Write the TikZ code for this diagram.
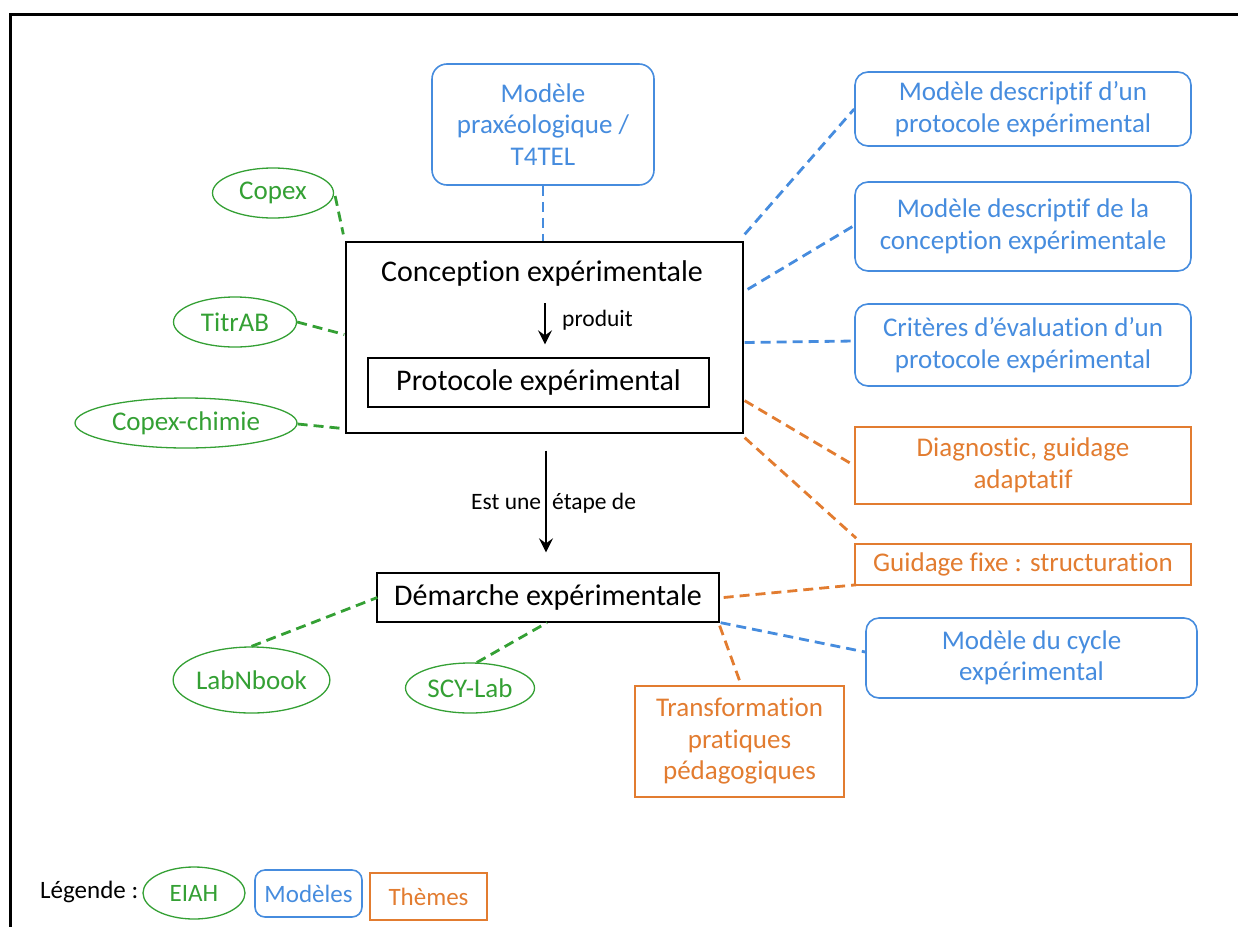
\documentclass[tikz,border=0pt]{standalone}
\usepackage{fontspec}
\setmainfont{Carlito}[Ligatures={TeX,NoCommon}]
\usetikzlibrary{shapes.geometric,arrows.meta}

\definecolor{modblue}{RGB}{70,140,222}
\definecolor{eiahgreen}{RGB}{52,160,52}
\definecolor{themorange}{RGB}{226,124,48}

\tikzset{
  boxtext/.style={font=\fontsize{27}{31.5}\selectfont, align=center, inner sep=0pt},
  model/.style={boxtext, draw=modblue, text=modblue, line width=1.6pt, rounded corners=13pt},
  theme/.style={boxtext, draw=themorange, text=themorange, line width=1.6pt},
  eiah/.style={boxtext, ellipse, draw=eiahgreen, text=eiahgreen, line width=1.3pt},
  mainbox/.style={draw=black, line width=1.3pt, inner sep=0pt, font=\fontsize{30}{34}\selectfont},
  small/.style={font=\fontsize{23.5}{27}\selectfont, inner sep=0pt},
  legendtext/.style={font=\fontsize{25}{29}\selectfont},
  link/.style={dash pattern=on 10pt off 6pt, line width=2.8pt},
  bluelink/.style={link, draw=modblue},
  greenlink/.style={link, draw=eiahgreen},
  orangelink/.style={link, draw=themorange},
  relation/.style={line width=2.8pt, -{Stealth[length=14pt,width=14pt,inset=5pt]}},
}

\begin{document}
\begin{tikzpicture}[x=1pt,y=-1pt]
  \useasboundingbox (0,0) rectangle (1238,926);

  % outer frame (runs off the right and bottom edges)
  \draw[line width=3pt] (1260,14) -- (10,14) -- (10,950);

  % central concept
  \node[mainbox, minimum width=397pt, minimum height=191pt] (conc) at (544.5,337.5) {};
  \node[font=\fontsize{30}{34}\selectfont, inner sep=0pt] (conctxt) at (542,273) {Conception expérimentale};
  \node[mainbox, minimum width=341pt, minimum height=49pt] (proto) at (538.5,382.5) {Protocole expérimental};
  \node[small, anchor=west] (produit) at (562,320) {produit};
  \draw[relation, shorten <=17pt, shorten >=13pt] ([xshift=3pt]conctxt.south) -- ([xshift=6.5pt]proto.north);

  \node[mainbox, minimum width=342pt, minimum height=49pt] (dem) at (548,597.5) {Démarche expérimentale};
  \node[small, anchor=west] (etape) at (471,503) {Est une\hspace{11pt}étape de};
  \draw[relation, shorten <=17pt, shorten >=20pt] ([xshift=1.5pt]conc.south) -- ([xshift=-2pt]dem.north);

  % models
  \node[model, minimum width=222pt, minimum height=121pt, rounded corners=15pt] (praxeo) at (543,124.5) {Modèle\\praxéologique /\\T4TEL};
  \node[model, minimum width=336pt, minimum height=74pt] (desc1) at (1023,109) {Modèle descriptif d’un\\protocole expérimental};
  \node[model, minimum width=336pt, minimum height=89pt] (desc2) at (1023,226.5) {Modèle descriptif de la\\conception expérimentale};
  \node[model, minimum width=336pt, minimum height=82pt] (crit) at (1023,345) {Critères d’évaluation d’un\\protocole expérimental};
  \node[model, minimum width=331pt, minimum height=80pt] (cycle) at (1031.5,658) {Modèle du cycle\\expérimental};

  % themes
  \node[theme, minimum width=336pt, minimum height=77pt] (diag) at (1023,465.5) {Diagnostic, guidage\\adaptatif};
  \node[theme, minimum width=336pt, minimum height=41pt] (guid) at (1023,564.5) {Guidage fixe : structuration};
  \node[theme, minimum width=209pt, minimum height=111pt] (trans) at (739.5,741.5) {Transformation\\pratiques\\pédagogiques};

  % learning environments
  \node[eiah, minimum width=121pt, minimum height=50pt] (copex) at (273,193) {Copex};
  \node[eiah, minimum width=123pt, minimum height=50pt] (titrab) at (235,322) {TitrAB};
  \node[eiah, minimum width=222pt, minimum height=50pt] (copexch) at (186,423) {Copex-chimie};
  \node[eiah, minimum width=149pt, minimum height=66pt] (labnbook) at (251.5,680) {LabNbook};
  \node[eiah, minimum width=129pt, minimum height=50pt] (scylab) at (470,688) {SCY-Lab};

  % links to models
  \draw[bluelink] (praxeo.south) -- (praxeo.south |- conc.north);
  \draw[bluelink] ([shift={(1,-7)}]conc.north east) -- (desc1.west);
  \draw[bluelink] ([shift={(4,48)}]conc.north east) -- ([shift={(0,-1)}]desc2.west);
  \draw[bluelink] ([shift={(1,5)}]conc.east) -- ([shift={(0,-4)}]crit.west);
  \draw[bluelink] ([shift={(1,0)}]dem.south east) -- ([shift={(0,-6)}]cycle.west);

  % links to themes
  \draw[orangelink] ([shift={(1,-33)}]conc.south east) -- (diag.west);
  \draw[orangelink] ([shift={(1,4)}]conc.south east) -- ([shift={(2,-5)}]guid.north west);
  \draw[orangelink] ([shift={(4,0)}]dem.east) -- ([shift={(2,-1)}]guid.south west);
  \draw[orangelink] ([shift={(0,3)}]dem.south east) -- ([shift={(1,-2)}]trans.north);

  % links to learning environments
  \draw[greenlink] ([shift={(1,3)}]copex.east) -- ([shift={(-2,-7)}]conc.north west);
  \draw[greenlink] (titrab.east) -- ([shift={(-1,-3)}]conc.west);
  \draw[greenlink] ([shift={(0,1)}]copexch.east) -- ([shift={(-1,-5)}]conc.south west);
  \draw[greenlink] (labnbook.north) -- ([shift={(1,0)}]dem.west);
  \draw[greenlink] (scylab.75) -- ([shift={(-1,0)}]dem.south);

  % legend
  \node[legendtext, inner sep=0pt, anchor=west] (legtitle) at (40,892) {Légende :};
  \node[eiah, legendtext, minimum width=102pt, minimum height=52pt] (legeiah) at (194,893) {EIAH};
  \node[model, legendtext, minimum width=107pt, minimum height=47pt, rounded corners=10pt] (legmod) at (308.5,893.5) {Modèles};
  \node[theme, legendtext, minimum width=117pt, minimum height=47pt] (legtheme) at (428.5,896.5) {Thèmes};
\end{tikzpicture}
\end{document}
